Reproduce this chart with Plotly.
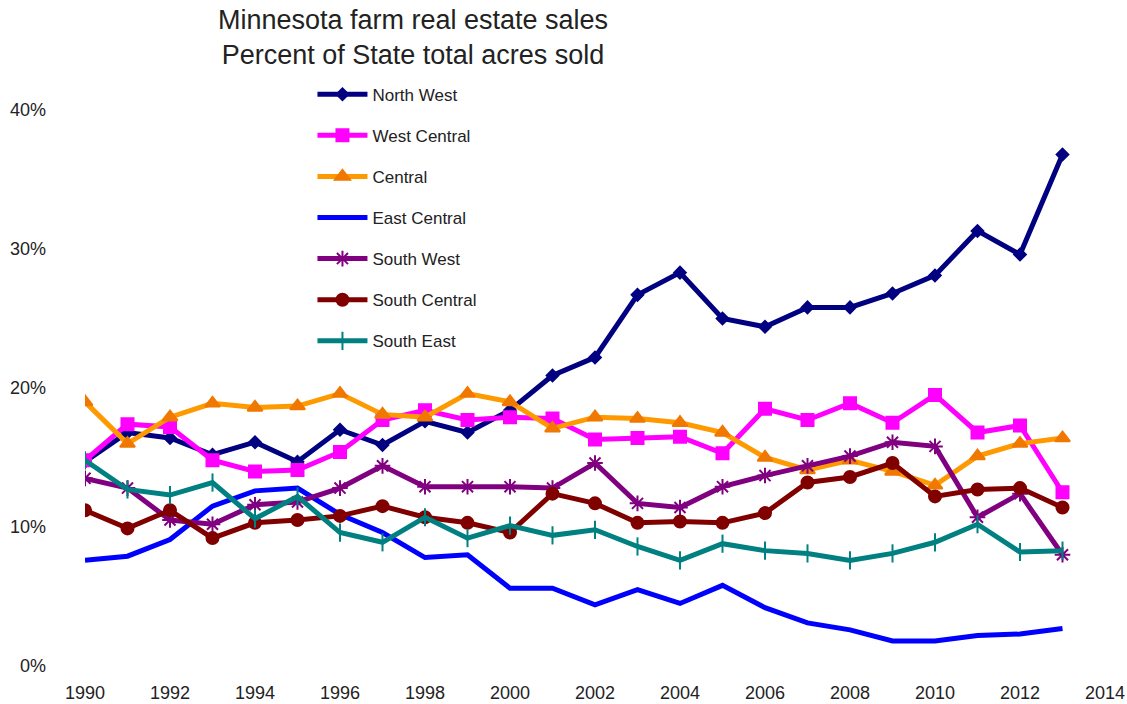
import plotly.graph_objects as go

years = list(range(1990, 2014))

north_west = [14.7, 16.8, 16.4, 15.2, 16.1, 14.7, 17.0, 15.9, 17.6, 16.8, 18.4, 20.9,
              22.2, 26.7, 28.3, 25.0, 24.4, 25.8, 25.8, 26.8, 28.1, 31.3, 29.6, 36.8]
west_central = [14.8, 17.4, 17.2, 14.8, 14.0, 14.1, 15.4, 17.7, 18.4, 17.7, 17.9, 17.8,
                16.3, 16.4, 16.5, 15.3, 18.5, 17.7, 18.9, 17.5, 19.5, 16.8, 17.3, 12.5]
central = [19.0, 16.0, 17.9, 18.9, 18.6, 18.7, 19.6, 18.1, 17.9, 19.6, 19.0, 17.1,
           17.9, 17.8, 17.5, 16.8, 15.0, 14.1, 14.8, 14.0, 13.0, 15.1, 16.0, 16.4]
east_central = [7.6, 7.9, 9.1, 11.5, 12.6, 12.8, 10.9, 9.6, 7.8, 8.0, 5.6, 5.6,
                4.4, 5.5, 4.5, 5.8, 4.2, 3.1, 2.6, 1.8, 1.8, 2.2, 2.3, 2.7]
south_west = [13.5, 12.8, 10.5, 10.2, 11.6, 11.8, 12.8, 14.4, 12.9, 12.9, 12.9, 12.8,
              14.6, 11.7, 11.4, 12.9, 13.7, 14.4, 15.1, 16.1, 15.8, 10.7, 12.4, 8.0]
south_central = [11.2, 9.9, 11.2, 9.2, 10.3, 10.5, 10.8, 11.5, 10.7, 10.3, 9.6, 12.4,
                 11.7, 10.3, 10.4, 10.3, 11.0, 13.2, 13.6, 14.6, 12.2, 12.7, 12.8, 11.4]
south_east = [14.8, 12.7, 12.3, 13.2, 10.6, 12.2, 9.6, 8.9, 10.7, 9.2, 10.1, 9.4,
              9.8, 8.6, 7.6, 8.8, 8.3, 8.1, 7.6, 8.1, 8.9, 10.2, 8.2, 8.3]

series = [
    ("North West", north_west, "#000080", "diamond", 9, "#000080"),
    ("West Central", west_central, "#FF00FF", "square", 12, "#FF00FF"),
    ("Central", central, "#FF9900", "triangle-up", 13, "#F07800"),
    ("East Central", east_central, "#0000FF", None, 0, "#0000FF"),
    ("South West", south_west, "#800080", "asterisk-open", 13, "#800080"),
    ("South Central", south_central, "#800000", "circle", 12, "#800000"),
    ("South East", south_east, "#008080", "line-ns-open", 13, "#008080"),
]

x_ticks = list(range(1990, 2015, 2))
y_ticks = [0, 10, 20, 30, 40]
y_labels = ["0%", "10%", "20%", "30%", "40%"]

fig = go.Figure()
for name, vals, color, symbol, size, mcolor in series:
    marker = dict(symbol=symbol or "circle", size=size, color=mcolor,
                  line=dict(color=mcolor, width=2))
    fig.add_trace(go.Scatter(
        x=years, y=vals, name=name, legendgroup=name,
        mode="lines+markers" if symbol else "lines",
        line=dict(color=color, width=5),
        marker=marker,
    ))

fig.update_layout(
    width=1127, height=704,
    paper_bgcolor="white", plot_bgcolor="white",
    margin=dict(l=85, r=22, t=110, b=38),
    font=dict(family="Liberation Sans, Arial, sans-serif", size=17, color="#222"),
    title=dict(
        text="Minnesota farm real estate sales<br>Percent of State total acres sold",
        x=413 / 1127, xanchor="center", y=1 - 29 / 704, yanchor="middle",
        yref="container", font=dict(size=27, color="#222"),
    ),
    showlegend=True,
    legend=dict(
        x=0.223, y=1.06, xanchor="left", yanchor="top",
        bgcolor="rgba(0,0,0,0)", tracegroupgap=16, itemwidth=50,
        font=dict(size=17, color="#222"),
    ),
    xaxis=dict(
        range=[1990, 2014], tickvals=x_ticks, showgrid=False, zeroline=False,
        showline=False, ticks="", tickfont=dict(size=18), ticklabelstandoff=14,
        automargin=False,
    ),
    yaxis=dict(
        range=[0, 40], tickvals=y_ticks, ticktext=y_labels, showgrid=False,
        zeroline=False, showline=False, ticks="", tickfont=dict(size=18),
        ticklabelstandoff=38, automargin=False,
    ),
)

fig.write_html("out.html")
